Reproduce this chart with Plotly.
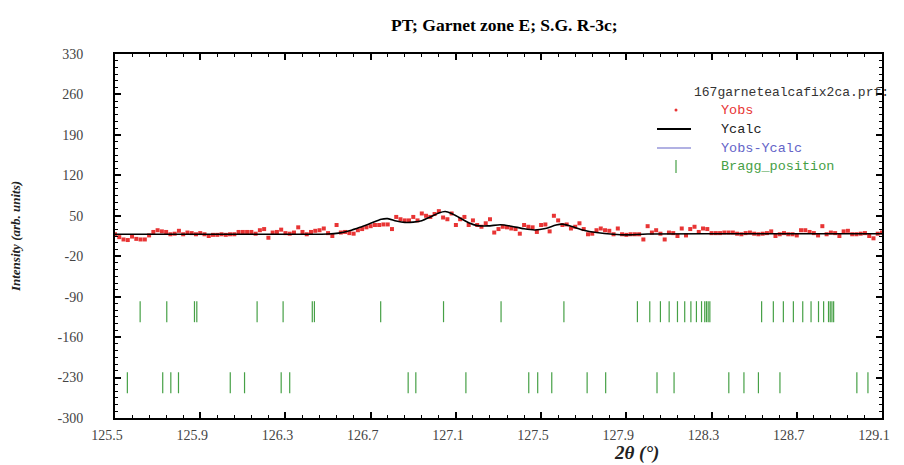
import plotly.graph_objects as go

# ---------------- data ----------------
two_theta_start = 125.50
two_theta_step = 0.02

yobs = [
    18, 13, 9, 8, 14, 10, 9, 9, 16, 22,
    25, 23, 22, 18, 19, 24, 18, 21, 20, 18,
    20, 18, 15, 17, 17, 18, 17, 18, 18, 22,
    22, 22, 22, 19, 25, 27, 12, 21, 22, 26,
    20, 19, 21, 30, 22, 18, 22, 24, 25, 28,
    20, 15, 34, 21, 22, 20, 19, 25, 27, 30,
    32, 34, 34, 35, 35, 27, 48, 44, 42, 42,
    48, 42, 54, 50, 48, 53, 58, 47, 44, 54,
    34, 44, 48, 34, 42, 34, 31, 37, 44, 21,
    27, 31, 30, 28, 27, 19, 34, 31, 30, 22,
    34, 35, 23, 50, 42, 34, 35, 28, 31, 37,
    27, 18, 19, 25, 28, 25, 24, 18, 28, 18,
    17,
    18, 18, 18, 9, 32, 21, 25, 19, 9, 21,
    20, 15, 28, 16, 27, 31, 22, 28, 27, 20,
    20, 20, 21, 21, 21, 19, 18, 20, 21, 19,
    18, 19, 20, 23, 15, 18, 20, 18, 18, 16,
    25, 25, 22, 20, 16, 32, 18, 21, 20, 15,
    23, 24, 18, 18, 19, 20, 15, 11, 19, 21,
]
two_theta_obs = [round(two_theta_start + i * two_theta_step, 3) for i in range(len(yobs))]

two_theta_calc = [125.50, 126.00, 126.50, 126.55, 126.60, 126.65, 126.70, 126.75, 126.78,
                  126.82, 126.86, 126.90, 126.94, 126.98, 127.02, 127.05, 127.08, 127.12,
                  127.16, 127.20, 127.25, 127.31, 127.36, 127.42, 127.47, 127.52, 127.57,
                  127.60, 127.64, 127.70, 127.76, 127.84, 127.90, 128.00, 128.50, 129.10]
ycalc = [18, 18, 18.5, 20, 24, 30, 37, 44, 45,
         41, 38.5, 39, 41.5, 48, 55, 57.5, 54, 46,
         38, 33, 32.5, 34.5, 32, 27.5, 25.5, 28, 34,
         35.5, 32, 25, 21, 18, 17, 18.5, 19, 19]

bragg_phase1 = [125.618, 125.743, 125.873, 125.884, 126.167, 126.289, 126.426, 126.436,
                126.747, 127.042, 127.312, 127.607, 127.952, 128.010, 128.060, 128.101,
                128.140, 128.174, 128.203, 128.229, 128.253, 128.268, 128.276, 128.284,
                128.292, 128.535, 128.590, 128.637, 128.684, 128.728, 128.767, 128.802,
                128.826, 128.849, 128.857, 128.865, 128.873]
bragg_phase2 = [125.558, 125.724, 125.762, 125.798, 126.041, 126.108, 126.280, 126.320,
                126.876, 126.912, 127.147, 127.442, 127.484, 127.550, 127.716, 127.803,
                128.044, 128.124, 128.381, 128.452, 128.520, 128.621, 128.982, 129.034]
bragg_level1 = -116
bragg_level2 = -239

x_ticks = [125.5, 125.9, 126.3, 126.7, 127.1, 127.5, 127.9, 128.3, 128.7, 129.1]
y_ticks = [330, 260, 190, 120, 50, -20, -90, -160, -230, -300]

# ---------------- styles ----------------
RED = "rgb(232,52,52)"
GREEN = "rgb(70,160,70)"
BLUE = "rgb(100,100,200)"
SERIF = "Liberation Serif, Times New Roman, serif"
MONO = "Liberation Mono, Courier New, monospace"

fig = go.Figure()
fig.add_trace(go.Scatter(x=two_theta_obs, y=yobs, mode="markers", name="Yobs",
                         marker=dict(color=RED, size=4, symbol="square"), showlegend=False))
fig.add_trace(go.Scatter(x=two_theta_calc, y=ycalc, mode="lines", name="Ycalc",
                         line=dict(color="black", width=1.6, shape="spline", smoothing=0.8),
                         showlegend=False))
fig.add_trace(go.Scatter(x=bragg_phase1, y=[bragg_level1] * len(bragg_phase1), mode="markers",
                         name="Bragg_position",
                         marker=dict(symbol="line-ns", size=15, color=GREEN,
                                     line=dict(color=GREEN, width=1.2)), showlegend=False))
fig.add_trace(go.Scatter(x=bragg_phase2, y=[bragg_level2] * len(bragg_phase2), mode="markers",
                         name="Bragg_position",
                         marker=dict(symbol="line-ns", size=15, color=GREEN,
                                     line=dict(color=GREEN, width=1.2)), showlegend=False))

# page body margin shifts the figure by 8 px; work in window pixels and compensate
OFF = 8
W, H = 904 - OFF, 465 - OFF
L, T = 115 - OFF, 54 - OFF
R = W - (882 - OFF)
B = H - (418 - OFF)
pw, ph = W - L - R, H - T - B


def px(xp):
    return (xp - OFF - L) / pw


def py(yp):
    return (H - B - (yp - OFF)) / ph


axis_common = dict(showline=True, linecolor="black", linewidth=2, mirror="ticks",
                   ticks="inside", tickcolor="black", tickwidth=1.5, ticklen=6,
                   showgrid=False, zeroline=False, automargin=False,
                   tickfont=dict(family=SERIF, size=14, color="#444"))

fig.update_xaxes(range=[125.5, 129.1], tickmode="array", tickvals=x_ticks,
                 ticktext=[f"{v:.1f}" for v in x_ticks],
                 minor=dict(ticks="inside", dtick=0.08, tick0=125.5, ticklen=3,
                            tickcolor="black", tickwidth=1),
                 ticklabelstandoff=3, ticklabelshift=-8, **axis_common)
fig.update_yaxes(range=[-300, 330], tickmode="array", tickvals=y_ticks,
                 ticktext=[str(v) for v in y_ticks],
                 minor=dict(ticks="inside", dtick=70 / 6, tick0=330, ticklen=3,
                            tickcolor="black", tickwidth=1),
                 ticklabelstandoff=27,
                 title=dict(text="<b><i>Intensity (arb. units)</i></b>",
                            font=dict(family=SERIF, size=13, color="#222"), standoff=36),
                 **axis_common)


def note(text, xw, yw, font, xanchor="left"):
    return dict(text=text, xref="paper", yref="paper", x=px(xw), y=py(yw),
                xanchor=xanchor, yanchor="middle", showarrow=False, font=font)


annotations = [
    note("<b>PT; Garnet zone E; S.G. R-3c;</b>", 504, 25,
         dict(family=SERIF, size=17.5, color="black"), "center"),
    note("<b><i>2θ (°)</i></b>", 636, 453, dict(family=SERIF, size=19, color="#222"), "center"),
    note("167garnetealcafix2ca.prf:", 692, 93, dict(family=MONO, size=13, color="#333")),
    note("Yobs", 719, 110, dict(family=MONO, size=13.5, color=RED)),
    note("Ycalc", 719, 129, dict(family=MONO, size=13.5, color="#222")),
    note("Yobs-Ycalc", 719, 148, dict(family=MONO, size=13.5, color=BLUE)),
    note("Bragg_position", 719, 166, dict(family=MONO, size=13.5, color=GREEN)),
]

shapes = [
    dict(type="circle", xref="paper", yref="paper", x0=px(674.5), x1=px(677.5),
         y0=py(111.5), y1=py(108.5), fillcolor=RED, line=dict(width=0)),
    dict(type="line", xref="paper", yref="paper", x0=px(657), x1=px(691), y0=py(129),
         y1=py(129), line=dict(color="black", width=1.8)),
    dict(type="line", xref="paper", yref="paper", x0=px(657), x1=px(691), y0=py(148),
         y1=py(148), line=dict(color=BLUE, width=1.2)),
    dict(type="line", xref="paper", yref="paper", x0=px(676), x1=px(676), y0=py(160),
         y1=py(173), line=dict(color=GREEN, width=1.2)),
]

fig.update_layout(width=W, height=H, margin=dict(l=L, r=R, t=T, b=B),
                  paper_bgcolor="white", plot_bgcolor="white",
                  annotations=annotations, shapes=shapes, showlegend=False)

fig.write_html("out.html")
